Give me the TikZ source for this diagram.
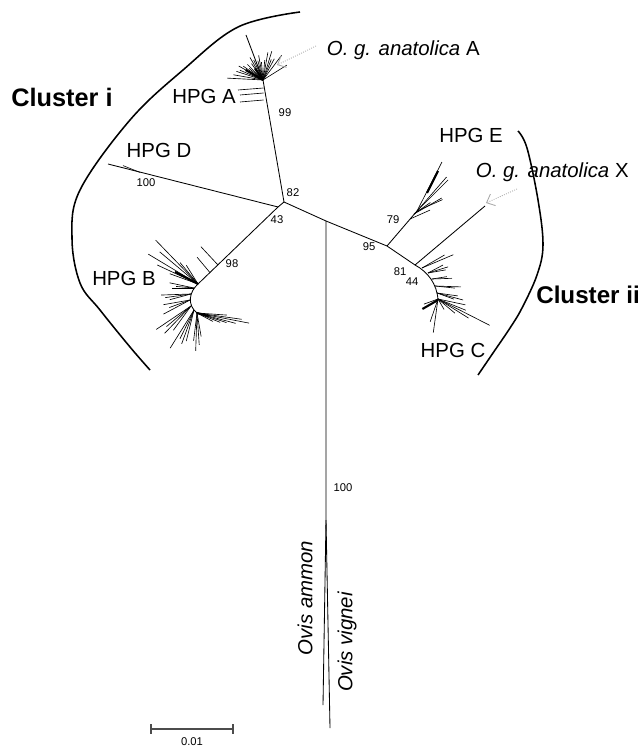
\documentclass[tikz,border=0pt]{standalone}
\usepackage{fontspec}
\setmainfont{Liberation Sans}
\usetikzlibrary{arrows.meta}
\begin{document}
\begin{tikzpicture}[x=0.025cm, y=-0.025cm,
  br/.style={line width=0.6pt},
  lf/.style={line width=0.45pt},
  wedge/.style={line width=1.5pt},
  bs/.style={font=\fontsize{8}{9}\selectfont},
  hpg/.style={font=\fontsize{14.5}{16}\selectfont},
  clus/.style={font=\fontsize{18}{20}\selectfont\bfseries},
  arc/.style={line width=1.1pt},
  scl/.style={line width=0.8pt, black!70},
  ptr/.style={gray!70, densely dotted, line width=0.6pt, -{Straight Barb[length=5pt,width=9pt]}}
]
\useasboundingbox (0,0) rectangle (640,747);

% internal nodes
\coordinate (n82) at (284,202);
\coordinate (n43) at (278,207);
\coordinate (nm) at (326,221);
\coordinate (n95) at (387,246);
\coordinate (n81) at (415,265);
\coordinate (fa) at (263,80);
\coordinate (ta) at (246,35);
\coordinate (fb) at (198,284);
\coordinate (fb2) at (197,313);
\coordinate (fc2) at (438,300);
\coordinate (fe) at (417,211);
\coordinate (dd) at (108,164);
\coordinate (ox) at (485,206);
\coordinate (split) at (326,520);
\coordinate (am) at (323,705);
\coordinate (vi) at (330,728);

% backbone
\draw[br] (n82) -- (fa) -- (ta);
\draw[br] (n82) -- (n43) -- (dd);
\draw[br] (n43) -- (fb);
\draw[br] (n82) -- (nm) -- (n95) -- (n81) -- (ox);
\draw[br] (n95) -- (fe);
\draw[br] (nm) -- (split) -- (am);
\draw[br] (split) -- (vi);
\draw[br] (fb) .. controls (189,292) and (187,305) .. (fb2);
\draw[br] (n81) .. controls (428,272) and (437,284) .. (fc2);

% HPG A
\foreach \a/\l in {-73/30,-80/28,-85/20,-53/31,-32/28,-62/24,-68/22,-95/18,-105/20,-115/22,
                   -125/20,-135/22,-145/24,-150/28,-157/25,-162/28,-170/30,-177/36,-100/25,-110/16,-120/26,-140/18}
  \draw[lf] (fa) -- ++(\a:\l);
\draw[wedge] (fa) -- ++(-150:20);
\draw[wedge] (fa) -- ++(-125:14);
\foreach \y/\x in {88/238,93/240,100/240}
  \draw[lf] (263.5,\y) -- (\x,\y+2);

% HPG B
\draw[lf] (218,265) -- ++(-133:25);
\draw[lf] (210,272.6) -- ++(-130:20);
\foreach \x/\y/\a/\l in {198/284/-134/61,198/284/-149/58,198/284/-155/45,198/284/-140/50,198/284/-130/28,
    198/284/-122/22,198/284/-160/30,194/288/-175/18,194/288/-168/25,194/288/180/22,
    191/294/172/26,191/294/178/30,191/294/165/22,190/300/170/27,190/300/160/22,190/300/152/30,
    191/306/146/42,191/306/140/32,191/306/134/38,191/306/126/30,194/310/122/45,194/310/116/32,
    194/310/110/36,194/310/104/32,197/313/92/38,197/313/97/28,197/313/86/32,197/313/80/24,
    197/313/11/53,197/313/15/40,197/313/18/31,197/313/8/45,197/313/22/25,197/313/28/18,197/313/4/30}
  \draw[lf] (\x,\y) -- ++(\a:\l);
\draw[wedge] (fb) -- ++(-152:26);
\draw[wedge] (fb2) -- ++(15:12);

% HPG C
\foreach \x/\y/\a/\l in {422/268/-23/34,422/268/-30/26,428/273/-28/17,428/273/-17/21,428/273/-10/18,
    432/279/-9/15,432/279/-2/20,435/286/6/20,435/286/2/26,437/293/15/27,437/293/8/21,437/293/20/18,
    438/299/12/28,438/299/32/36,438/299/27/58,438/299/98/34,438/299/109/24,438/299/22/30,
    438/299/40/22,438/299/60/12,438/299/160/15}
  \draw[lf] (\x,\y) -- ++(\a:\l);
\draw[wedge] (fc2) -- ++(150:18);

% HPG E
\foreach \x/\y/\a/\l in {410/219/-24/22,414/214/-30/32,414/214/-35/20,417/211/-45/44,
    417/211/-49/45,417/211/-63/55,417/211/-24/28}
  \draw[lf] (\x,\y) -- ++(\a:\l);
\draw[wedge] (427,193) -- (438,171);

% HPG D
\draw[lf] (140,172.4) -- (123,165.6);

% support values
\node[bs] (l99) at (285,113) {99};
\node[bs] (l100d) at (146,183) {100};
\node[bs] (l82) at (293,193) {82};
\node[bs] (l43) at (277,220) {43};
\node[bs] (l98) at (232,264) {98};
\node[bs] (l79) at (393,220) {79};
\node[bs] (l95) at (369,247) {95};
\node[bs] (l81) at (400,272) {81};
\node[bs] (l44) at (412,282) {44};
\node[bs] (l100) at (343,488) {100};

% group labels
\node[hpg] (hA) at (204,96) {HPG A};
\node[hpg] (hB) at (124,278) {HPG B};
\node[hpg] (hC) at (453,350) {HPG C};
\node[hpg] (hD) at (159,150) {HPG D};
\node[hpg] (hE) at (471,135) {HPG E};
\node[hpg, anchor=west] (oA) at (322,50) {\textit{O. g. anatolica} A};
\node[hpg, anchor=west] (oX) at (471,172) {\textit{O. g. anatolica} X};
\node[hpg, rotate=90, font=\fontsize{14.5}{16}\selectfont\itshape] (oam) at (305,598) {Ovis ammon};
\node[hpg, rotate=90, font=\fontsize{14.5}{16}\selectfont\itshape] (ovi) at (347,642) {Ovis vignei};

% pointers
\coordinate (pA0) at (316,46);
\coordinate (pA1) at (277,65);
\coordinate (pX0) at (517,189);
\coordinate (pX1) at (486,203);
\draw[ptr] (pA0) -- (pA1);
\draw[ptr] (pX0) -- (pX1);

% clusters
\draw[arc] plot[smooth, tension=0.6] coordinates {(300,12) (238,27) (183,70) (130,120) (80,190) (72,238) (80,283) (100,310) (130,347) (150,370)};
\draw[arc] plot[smooth, tension=0.6] coordinates {(518,131) (527,148) (538,200) (543,245) (537,275) (522,308) (510,328) (493,353) (478,375)};
\node[clus] (ci) at (62,97) {Cluster i};
\node[clus, font=\fontsize{17.2}{20}\selectfont\bfseries, anchor=west, inner sep=0pt] (cii) at (536,295) {Cluster ii};

% scale bar
\coordinate (s0) at (151,729);
\coordinate (s1) at (233,729);
\draw[scl] (s0) -- (s1);
\draw[scl] (s0) ++(0,-5) -- ++(0,10);
\draw[scl] (s1) ++(0,-5) -- ++(0,10);
\node[bs] (sl) at (192,742) {0.01};
\end{tikzpicture}
\end{document}
